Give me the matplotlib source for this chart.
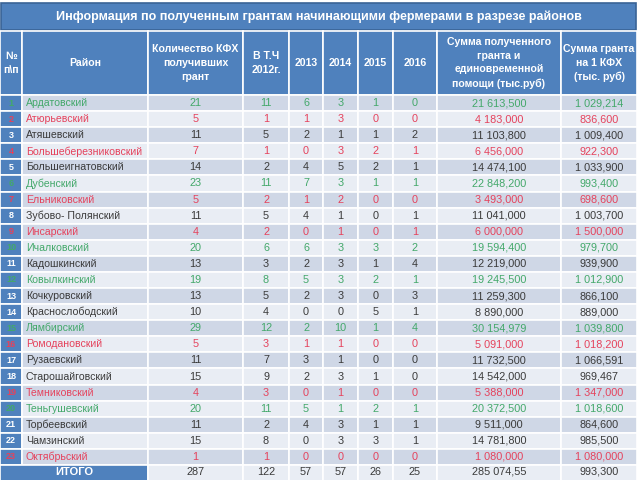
import matplotlib
matplotlib.use("Agg")
import matplotlib.pyplot as plt
from matplotlib.patches import Rectangle

# data
title = "Информация по полученным грантам начинающими фермерами в разрезе районов"
headers = ["№\nп\\п", "Район", "Количество КФХ\nполучивших\nгрант", "В Т.Ч\n2012г.",
           "2013", "2014", "2015", "2016",
           "Сумма полученного\nгранта и\nединовременной\nпомощи (тыс.руб)",
           "Сумма гранта\nна 1 КФХ\n(тыс. руб)"]
districts = ["Ардатовский", "Атюрьевский", "Атяшевский", "Большеберезниковский",
             "Большеигнатовский", "Дубенский", "Ельниковский", "Зубово- Полянский",
             "Инсарский", "Ичалковский", "Кадошкинский", "Ковылкинский",
             "Кочкуровский", "Краснослободский", "Лямбирский", "Ромодановский",
             "Рузаевский", "Старошайговский", "Темниковский", "Теньгушевский",
             "Торбеевский", "Чамзинский", "Октябрьский"]
kfh_total = [21, 5, 11, 7, 14, 23, 5, 11, 4, 20, 13, 19, 13, 10, 29, 5, 11, 15, 4, 20, 11, 15, 1]
y2012 = [11, 1, 5, 1, 2, 11, 2, 5, 2, 6, 3, 8, 5, 4, 12, 3, 7, 9, 3, 11, 2, 8, 1]
y2013 = [6, 1, 2, 0, 4, 7, 1, 4, 0, 6, 2, 5, 2, 0, 2, 1, 3, 2, 0, 5, 4, 0, 0]
y2014 = [3, 3, 1, 3, 5, 3, 2, 1, 1, 3, 3, 3, 3, 0, 10, 1, 1, 3, 1, 1, 3, 3, 0]
y2015 = [1, 0, 1, 2, 2, 1, 0, 0, 0, 3, 1, 2, 0, 5, 1, 0, 0, 1, 0, 2, 1, 3, 0]
y2016 = [0, 0, 2, 1, 1, 1, 0, 1, 1, 2, 4, 1, 3, 1, 4, 0, 0, 0, 0, 1, 1, 1, 0]
grant_sum = ["21 613,500", "4 183,000", "11 103,800", "6 456,000", "14 474,100",
             "22 848,200", "3 493,000", "11 041,000", "6 000,000", "19 594,400",
             "12 219,000", "19 245,500", "11 259,300", "8 890,000", "30 154,979",
             "5 091,000", "11 732,500", "14 542,000", "5 388,000", "20 372,500",
             "9 511,000", "14 781,800", "1 080,000"]
grant_per_kfh = ["1 029,214", "836,600", "1 009,400", "922,300", "1 033,900",
                 "993,400", "698,600", "1 003,700", "1 500,000", "979,700",
                 "939,900", "1 012,900", "866,100", "889,000", "1 039,800",
                 "1 018,200", "1 066,591", "969,467", "1 347,000", "1 018,600",
                 "864,600", "985,500", "1 080,000"]
# g = green (best), r = red (worst), k = ordinary
highlight = ["g", "r", "k", "r", "k", "g", "r", "k", "r", "g", "k", "g",
             "k", "k", "g", "r", "k", "k", "r", "g", "k", "k", "r"]
total_label = "ИТОГО"
totals = ["287", "122", "57", "57", "26", "25", "285 074,55", "993,300"]

# styles
BLUE = "#4f81bd"
BLUE_DARK = "#3a6396"
ROW_DARK = "#cfd7e6"
ROW_LIGHT = "#e9edf4"
TXT = {"g": "#43a86a", "r": "#e5425c", "k": "#3a3a3a"}
FONT = ["Liberation Sans Narrow", "Liberation Sans", "DejaVu Sans"]

col_x = [0, 22, 148, 243, 289, 323, 358, 393, 437, 561, 637]
head_top, head_bot = 31, 95
rows_bot = 465
tot_bot = 481
n = len(districts)
rh = (rows_bot - head_bot) / n

fig = plt.figure(figsize=(6.4, 4.8), dpi=100)
ax = fig.add_axes([0, 0, 1, 1])
ax.set_xlim(0, 640)
ax.set_ylim(480, 0)
ax.axis("off")

def cell(x0, x1, y0, y1, color):
    ax.add_patch(Rectangle((x0, y0), x1 - x0, y1 - y0, facecolor=color,
                           edgecolor="white", linewidth=1.2))

# title bar
ax.add_patch(Rectangle((1, 3), 635, head_top - 4, facecolor=BLUE,
                       edgecolor=BLUE_DARK, linewidth=1.2))
ax.text(319, 17, title, color="white", weight="bold", size=9.0,
        ha="center", va="center", family=FONT)

# header
for i, h in enumerate(headers):
    cell(col_x[i], col_x[i + 1], head_top, head_bot, BLUE)
    ax.text((col_x[i] + col_x[i + 1]) / 2, (head_top + head_bot) / 2, h,
            color="white", weight="bold", size=7.6, ha="center", va="center",
            linespacing=1.45, family=FONT)

# body
for r in range(n):
    y0 = head_bot + r * rh
    y1 = y0 + rh
    yc = (y0 + y1) / 2
    bg = ROW_DARK if r % 2 == 0 else ROW_LIGHT
    c = TXT[highlight[r]]
    cell(col_x[0], col_x[1], y0, y1, BLUE)
    num_c = "white" if highlight[r] == "k" else c
    ax.text((col_x[0] + col_x[1]) / 2, yc, str(r + 1), color=num_c,
            weight="bold", size=6.5, ha="center", va="center", family=FONT)
    for i in range(1, len(col_x) - 1):
        cell(col_x[i], col_x[i + 1], y0, y1, bg)
    ax.text(col_x[1] + 4, yc, districts[r], color=c, size=7.6,
            ha="left", va="center", family=FONT)
    vals = [kfh_total[r], y2012[r], y2013[r], y2014[r], y2015[r], y2016[r],
            grant_sum[r], grant_per_kfh[r]]
    for j, v in enumerate(vals):
        i = j + 2
        ax.text((col_x[i] + col_x[i + 1]) / 2, yc, str(v), color=c, size=7.8,
                ha="center", va="center", family=FONT)

# totals row
y0, y1 = rows_bot, tot_bot
yc = (y0 + 479) / 2
cell(col_x[0], col_x[2], y0, y1, BLUE)
ax.text((col_x[0] + col_x[2]) / 2, yc, total_label, color="white",
        weight="bold", size=8, ha="center", va="center", family=FONT)
for j, v in enumerate(totals):
    i = j + 2
    cell(col_x[i], col_x[i + 1], y0, y1, ROW_LIGHT)
    ax.text((col_x[i] + col_x[i + 1]) / 2, yc, v, color=TXT["k"], size=7.8,
            ha="center", va="center", family=FONT)

fig.savefig("out.png", dpi=100)
